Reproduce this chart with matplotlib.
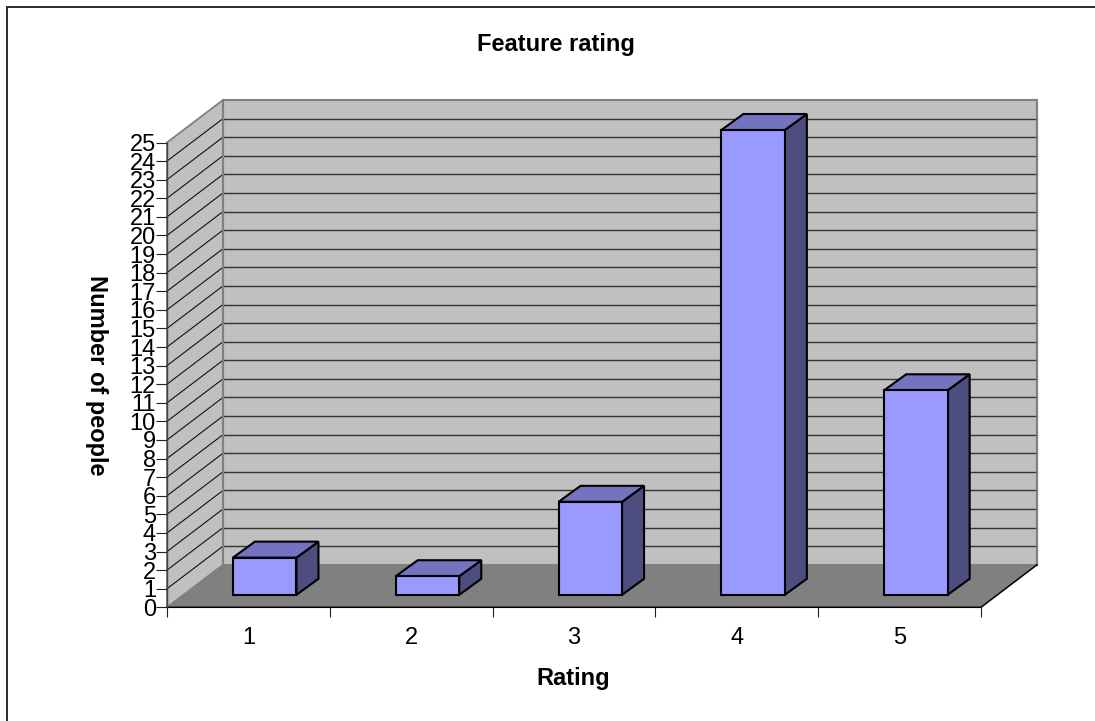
import matplotlib
matplotlib.use("Agg")
import matplotlib.pyplot as plt
from matplotlib.lines import Line2D
from matplotlib.patches import Polygon

plt.rcParams['font.family'] = ['Liberation Sans', 'DejaVu Sans']

# Data
ratings = [1, 2, 3, 4, 5]
people = [2, 1, 5, 25, 11]
y_ticks = list(range(0, 26))
title = "Feature rating"
x_title = "Rating"
y_title = "Number of people"

W, H = 1095, 721
dpi = 100
fig = plt.figure(figsize=(W / dpi, H / dpi), dpi=dpi, facecolor='white')

# Front plane of the pseudo-3D chart, in pixels
L, R, T, B = 167.0, 981.0, 142.5, 607.3
ax = fig.add_axes([L / W, 1 - B / H, (R - L) / W, (B - T) / H])
ax.set_xlim(0.5, 5.5)
ax.set_ylim(0, 25)
ax.patch.set_visible(False)
for s in ax.spines.values():
    s.set_visible(False)

px_x = 5 / (R - L)      # data units per pixel
px_y = 25 / (B - T)
DX, DY = 56 * px_x, 42.5 * px_y   # full depth of chart
WALL, FLOOR, EDGE = '#C0C0C0', '#808080', '#808080'
FRONT, TOP, SIDE = '#9999FF', '#7373BF', '#4D4D80'
xa, xb = 0.5, 5.5

# Back wall, side wall, floor
ax.add_patch(Polygon([(xa + DX, DY), (xb + DX, DY), (xb + DX, 25 + DY), (xa + DX, 25 + DY)],
                     fc=WALL, ec=EDGE, lw=1.5, clip_on=False, zorder=1))
ax.add_patch(Polygon([(xa, 0), (xa + DX, DY), (xa + DX, 25 + DY), (xa, 25)],
                     fc=WALL, ec=EDGE, lw=1.3, clip_on=False, zorder=1))
for v in y_ticks[1:-1]:
    ax.plot([xa, xa + DX], [v, v + DY], color='#111111', lw=0.8,
            clip_on=False, zorder=2)
    ax.plot([xa + DX, xb + DX], [v + DY, v + DY], color='#333333', lw=1.0,
            clip_on=False, zorder=2)
ax.add_patch(Polygon([(xa, 0), (xb, 0), (xb + DX, DY), (xa + DX, DY)],
                     fc=FLOOR, ec='none', clip_on=False, zorder=3))
ax.plot([xa + DX, xa + DX], [DY, 25 + DY], color=EDGE, lw=1.5, clip_on=False, zorder=3)
ax.plot([xb + DX, xb + DX], [DY, 25 + DY], color=EDGE, lw=1.5, clip_on=False, zorder=3)
ax.plot([xa, xb, xb + DX], [0, 0, DY], color='black', lw=1.1, clip_on=False, zorder=4)
ax.plot([xa, xa], [0, 25], color='#404040', lw=1.0, clip_on=False, zorder=4)

# Bars
bw = 63.5 * px_x
bx, by = 16.3 * px_x, 12.5 * px_y     # offset of the bar's front face from the front plane
bdx, bdy = 22 * px_x, 16 * px_y       # bar depth
edge = dict(ec='black', lw=1.5, clip_on=False, zorder=5, joinstyle='miter')
for r, v in zip(ratings, people):
    x0, x1 = r - bw / 2 + bx, r + bw / 2 + bx
    y0, y1 = by, by + v
    ax.add_patch(Polygon([(x1, y0), (x1 + bdx, y0 + bdy), (x1 + bdx, y1 + bdy), (x1, y1)], fc=SIDE, **edge))
    ax.add_patch(Polygon([(x0, y1), (x1, y1), (x1 + bdx, y1 + bdy), (x0 + bdx, y1 + bdy)], fc=TOP, **edge))
    ax.add_patch(Polygon([(x0, y0), (x1, y0), (x1, y1), (x0, y1)], fc=FRONT, **edge))

# Axes ticks and labels
ax.set_yticks(y_ticks)
ax.set_yticklabels([str(v) for v in y_ticks], fontsize=17, color='black')
ax.tick_params(axis='y', length=8, width=0.8, color='#202020', pad=0)
ax.set_xticks([r - 0.5 for r in ratings] + [ratings[-1] + 0.5])
ax.set_xticklabels([])
ax.tick_params(axis='x', which='major', length=7, width=0.8, color='#202020')
ax.set_xticks(ratings, minor=True)
ax.set_xticklabels([str(r) for r in ratings], minor=True, fontsize=17)
ax.tick_params(axis='x', which='minor', length=0, pad=14)

fig.text(555.5 / W, 1 - 51 / H, title, fontsize=17, fontweight='bold', ha='center', va='baseline')
fig.text(573 / W, 1 - 685 / H, x_title, fontsize=17, fontweight='bold', ha='center', va='baseline')
fig.text(96 / W, 1 - 375 / H, y_title, fontsize=17, fontweight='bold', ha='center', va='center',
         rotation=-90)

# Chart-area border (left and top edges)
fig.add_artist(Line2D([7 / W, 7 / W, 1], [0, 1 - 7 / H, 1 - 7 / H], color='#303030', lw=1.44,
                      transform=fig.transFigure, solid_joinstyle='miter'))

fig.savefig('out.png', dpi=dpi)
